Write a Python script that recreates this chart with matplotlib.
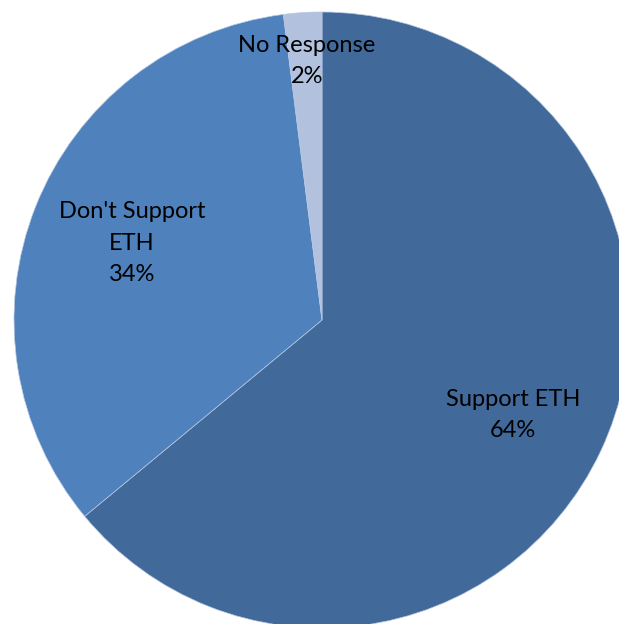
import matplotlib
matplotlib.use("Agg")
import matplotlib.pyplot as plt

categories = ["Support ETH", "Don't Support\nETH", "No Response"]
shares = [64, 34, 2]
colors = ["#41699A", "#4F81BD", "#B1C1DE"]

W, H = 619, 624
fig = plt.figure(figsize=(W / 100, H / 100), dpi=100)
ax = fig.add_axes([0, 0, 1, 1])

cx, cy, r = 322, H - 320, 308
ax.pie(shares, colors=colors, startangle=90, counterclock=False,
       center=(cx, cy), radius=r, frame=True,
       wedgeprops=dict(edgecolor="#B8C8E2", linewidth=0.5))
ax.set_xlim(0, W)
ax.set_ylim(0, H)
ax.set_aspect("equal")
ax.axis("off")

label_pos = [(513, 415), (132, 243), (307, 61)]
for name, val, (x, y) in zip(categories, shares, label_pos):
    ax.text(x, H - y, f"{name}\n{val}%", ha="center", va="center",
            fontsize=17, family="Lato", color="#000000",
            linespacing=1.62)

fig.savefig("out.png", dpi=100)
